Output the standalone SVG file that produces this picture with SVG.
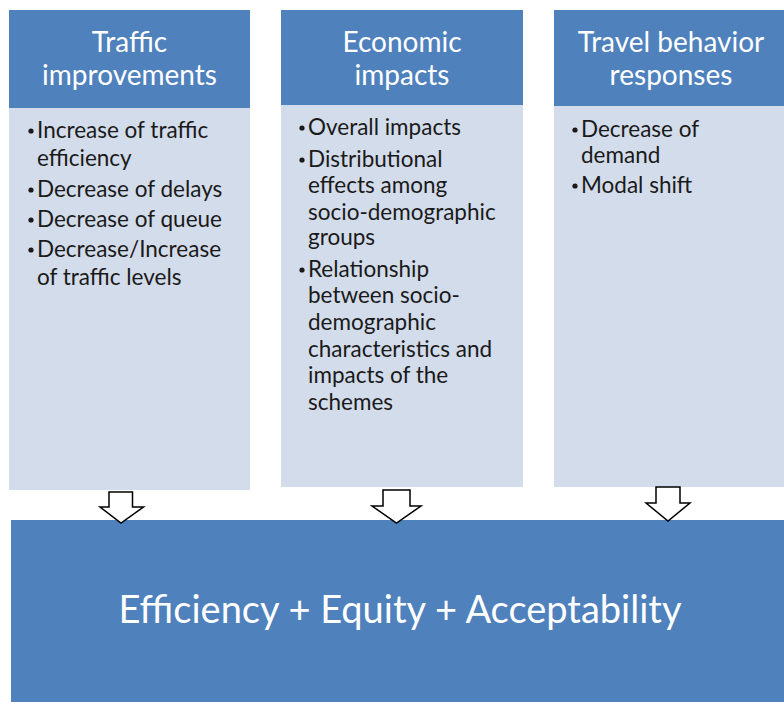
<svg xmlns="http://www.w3.org/2000/svg" width="784" height="702" viewBox="0 0 784 702">
<style>
.hdr{fill:#4F81BD}
.body{fill:#D3DCEA}
.ht{font-family:Lato,"Liberation Sans",sans-serif;font-size:28px;fill:#ffffff;text-anchor:middle}
.bt{font-family:Lato,"Liberation Sans",sans-serif;font-size:22.5px;fill:#1a1a1a}
.dot{fill:#1a1a1a}
.arr{fill:#ffffff;stroke:#000000;stroke-width:1.5;stroke-linejoin:miter}
.big{font-family:Lato,"Liberation Sans",sans-serif;font-size:38px;fill:#ffffff;text-anchor:middle}
</style>
<rect width="784" height="702" fill="#ffffff"/>
<g id="traffic">
<rect class="body" x="9" y="108" width="241" height="382"/>
<rect class="hdr" x="9" y="10" width="241" height="98"/>
<text class="ht" x="129.5" y="52">Traffic</text>
<text class="ht" x="129.5" y="85">improvements</text>
<circle class="dot" cx="31" cy="131" r="2.6"/>
<circle class="dot" cx="31" cy="190" r="2.6"/>
<circle class="dot" cx="31" cy="220" r="2.6"/>
<circle class="dot" cx="31" cy="250" r="2.6"/>
<text class="bt" x="37" y="138">Increase of traffic</text>
<text class="bt" x="37" y="166">efficiency</text>
<text class="bt" x="37" y="197">Decrease of delays</text>
<text class="bt" x="37" y="227">Decrease of queue</text>
<text class="bt" x="37" y="257">Decrease/Increase</text>
<text class="bt" x="37" y="285">of traffic levels</text>
</g>
<g id="economic">
<rect class="body" x="281" y="105" width="242" height="382"/>
<rect class="hdr" x="281" y="10" width="242" height="95"/>
<text class="ht" x="402" y="52">Economic</text>
<text class="ht" x="402" y="85">impacts</text>
<circle class="dot" cx="302" cy="128" r="2.6"/>
<circle class="dot" cx="302" cy="160" r="2.6"/>
<circle class="dot" cx="302" cy="270" r="2.6"/>
<text class="bt" x="308" y="135">Overall impacts</text>
<text class="bt" x="308" y="167">Distributional</text>
<text class="bt" x="308" y="193">effects among</text>
<text class="bt" x="308" y="220">socio-demographic</text>
<text class="bt" x="308" y="245">groups</text>
<text class="bt" x="308" y="277">Relationship</text>
<text class="bt" x="308" y="303">between socio-</text>
<text class="bt" x="308" y="330">demographic</text>
<text class="bt" x="308" y="357">characteristics and</text>
<text class="bt" x="308" y="383">impacts of the</text>
<text class="bt" x="308" y="410">schemes</text>
</g>
<g id="travel">
<rect class="body" x="554" y="106" width="232" height="381"/>
<rect class="hdr" x="554" y="10" width="232" height="96"/>
<text class="ht" x="671" y="52">Travel behavior</text>
<text class="ht" x="671" y="85">responses</text>
<circle class="dot" cx="575" cy="130" r="2.6"/>
<circle class="dot" cx="575" cy="186" r="2.6"/>
<text class="bt" x="581" y="137">Decrease of</text>
<text class="bt" x="581" y="163">demand</text>
<text class="bt" x="581" y="193">Modal shift</text>
</g>
<g id="result">
<rect class="hdr" x="11" y="520" width="775" height="184"/>
<text class="big" x="400" y="623">Efficiency + Equity + Acceptability</text>
</g>
<g id="connectors">
<polygon class="arr" points="109,492 132.5,492 132.5,507 143.5,507 121,523 100,507 109,507"/>
<polygon class="arr" points="383,490 410,490 410,506 421,506 396.5,523 372,506 383,506"/>
<polygon class="arr" points="656,487 680,487 680,503 690,503 668,521 646,503 656,503"/>
</g>
</svg>
